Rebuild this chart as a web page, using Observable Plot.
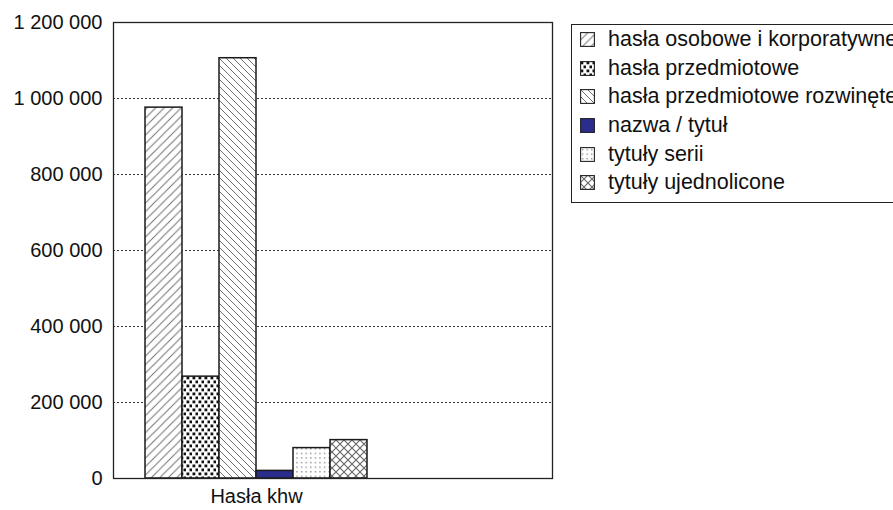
<!DOCTYPE html>
<html><head><meta charset="utf-8">
<script src="https://cdn.jsdelivr.net/npm/d3@7"></script>
<script src="https://cdn.jsdelivr.net/npm/@observablehq/plot@0.6"></script>
<style>
body{margin:0;background:#fff;font-family:"Liberation Sans",Arial,sans-serif;}
#wrap{position:relative;width:893px;height:510px;overflow:hidden;}
#legend{position:absolute;left:571px;top:24px;width:360px;height:179px;border:1.3px solid #222;box-sizing:border-box;padding-top:0.5px;}
.row{height:28.6px;display:flex;align-items:center;font-size:21.5px;color:#111;white-space:nowrap;}
.row svg{margin-left:8px;margin-right:13px;flex:none;}
</style>
</head><body>
<svg width="0" height="0" style="position:absolute">
<defs>
<pattern id="p1" width="8.5" height="8.5" patternUnits="userSpaceOnUse">
<rect width="8.5" height="8.5" fill="#fff"/>
<path d="M0,8.5L8.5,0M-2.125,2.125L2.125,-2.125M6.375,10.625L10.625,6.375" stroke="#6f6f6f" stroke-width="1"/>
</pattern>
<pattern id="p2" width="6" height="8" patternUnits="userSpaceOnUse">
<rect width="6" height="8" fill="#fff"/>
<rect x="0.5" y="0.5" width="2.8" height="2.8" fill="#111"/>
<rect x="3.5" y="4.5" width="2.8" height="2.8" fill="#111"/>
</pattern>
<pattern id="p3" width="7" height="7" patternUnits="userSpaceOnUse">
<rect width="7" height="7" fill="#fff"/>
<path d="M0,0L7,7M-1.75,5.25L1.75,8.75M5.25,-1.75L8.75,1.75" stroke="#6f6f6f" stroke-width="1"/>
</pattern>
<pattern id="p5" width="4.6" height="4.6" patternUnits="userSpaceOnUse">
<rect width="4.6" height="4.6" fill="#fff"/>
<rect x="2" y="2" width="1.2" height="1.2" fill="#666"/>
</pattern>
<pattern id="p6" width="8" height="8" patternUnits="userSpaceOnUse">
<rect width="8" height="8" fill="#fff"/>
<path d="M0,0L8,8M8,0L0,8" stroke="#666" stroke-width="1.1"/>
</pattern>
</defs>
</svg>
<div id="wrap"><div id="chart"></div><div id="legend"></div></div>
<script>
const categories = ["Hasła khw"];
const seriesNames = [
  "hasła osobowe i korporatywne",
  "hasła przedmiotowe",
  "hasła przedmiotowe rozwinęte",
  "nazwa / tytuł",
  "tytuły serii",
  "tytuły ujednolicone"
];
const seriesValues = [976000, 268000, 1106000, 20000, 80000, 101000];
const yTicks = [0, 200000, 400000, 600000, 800000, 1000000, 1200000];
const fills = ["url(#p1)", "url(#p2)", "url(#p3)", "#2b2d8c", "url(#p5)", "url(#p6)"];

const bars = seriesNames.map((name, i) => ({category: categories[0], name, value: seriesValues[i]}));
const fmt = d => d3.format(",")(d).replace(/,/g, " ");

const chart = Plot.plot({
  width: 893,
  height: 510,
  marginLeft: 113,
  marginRight: 341,
  marginTop: 22,
  marginBottom: 32,
  style: {fontSize: "20px", fontFamily: "Liberation Sans, Arial, sans-serif", color: "#111", background: "transparent"},
  x: {type: "band", domain: seriesNames, padding: 0, insetLeft: 30, insetRight: 183, axis: null},
  y: {domain: [0, 1200000], axis: null, label: null},
  color: {domain: seriesNames, range: fills},
  marks: [
    Plot.gridY(yTicks, {stroke: "#333", strokeOpacity: 1, strokeWidth: 1, strokeDasharray: "2,2"}),
    Plot.barY(bars, {x: "name", y: "value", fill: "name", stroke: "#1a1a1a", strokeWidth: 1.5}),
    Plot.frame({stroke: "#222", strokeWidth: 1.3}),
    Plot.axisY({ticks: yTicks, tickSize: 0, tickPadding: 11, tickFormat: fmt, fill: "#111", label: null}),
    Plot.text(categories, {
      frameAnchor: "bottom", dy: 24, text: d => d, fill: "#111",
      render(index, scales, values, dims, context, next) {
        const n = seriesNames.length;
        const a = scales.x(seriesNames[0]), b = scales.x(seriesNames[n - 1]);
        // the text mark adds half a bandwidth itself, so the midpoint of the first and last band starts gives the group centre
        const cx = (a + b) / 2;
        return next(index, scales, {...values, x: Array.from(index, () => cx)}, dims, context);
      }
    })
  ]
});
document.getElementById("chart").appendChild(chart);

const legend = document.getElementById("legend");
seriesNames.forEach((name, i) => {
  const row = document.createElement("div");
  row.className = "row";
  row.innerHTML = `<svg width="15" height="15"><rect x="0.6" y="0.6" width="13.8" height="13.8" fill="${fills[i]}" stroke="#222" stroke-width="1.1"/></svg><span>${name}</span>`;
  legend.appendChild(row);
});
</script>
</body></html>
